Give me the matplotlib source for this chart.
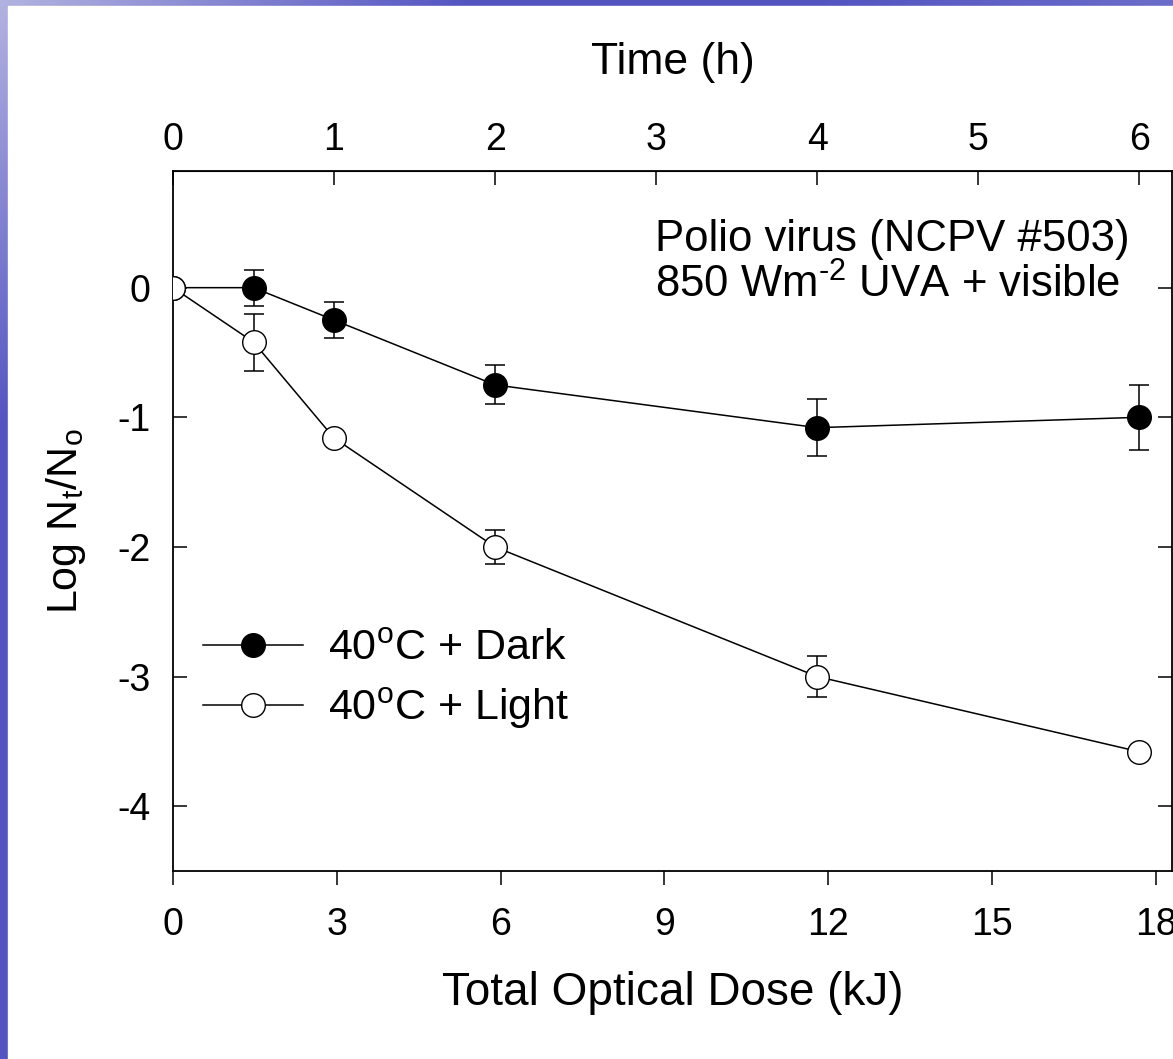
import numpy as np
import matplotlib
matplotlib.use("Agg")
import matplotlib.pyplot as plt
from matplotlib.patches import Rectangle

plt.rcParams['font.family'] = ['Liberation Sans', 'DejaVu Sans']
plt.rcParams['mathtext.fontset'] = 'custom'
plt.rcParams['mathtext.rm'] = 'Liberation Sans'
plt.rcParams['axes.unicode_minus'] = False

# Data
dose = [0, 1.475, 2.95, 5.9, 11.8, 17.7]          # kJ
dark = [0, 0, -0.25, -0.75, -1.08, -1.0]
dark_err = [0, 0.14, 0.14, 0.15, 0.22, 0.25]
light = [0, -0.42, -1.16, -2.0, -3.0, -3.58]
light_err = [0, 0.22, 0.0, 0.13, 0.16, 0.0]
kj_per_hour = 2.95

FS = 27      # tick labels
LFS = 31     # legend, y label
W, H = 1173, 1059
fig = plt.figure(figsize=(W / 100, H / 100), dpi=100)

# blue slide background strips
bg = fig.add_axes([0, 0, 1, 1], zorder=-10)
gx = np.linspace(0, 1, 300)
gy = np.linspace(0, 1, 300)
X, Y = np.meshgrid(gx, gy)
light_c = np.array([0.70, 0.70, 0.88])
dark_c = np.array([0.33, 0.33, 0.76])
t = np.clip(2.5 * (X + Y), 0, 1) - 0.25 * np.clip(X - 0.7, 0, 1) / 0.3 * (Y < 0.05)
t = np.clip(t, 0, 1)[..., None]
img = light_c * (1 - t) + dark_c * t
bg.imshow(img, extent=[0, 1, 0, 1], aspect='auto', origin='upper')
bg.add_patch(Rectangle((8 / W, 0), 1, 1 - 6 / H, color='white'))
bg.set_xlim(0, 1)
bg.set_ylim(0, 1)
bg.axis('off')

ax = fig.add_axes([173 / W, 1 - 871 / H, (1172 - 173) / W, (871 - 171) / H])

ax.errorbar(dose, dark, yerr=dark_err, fmt='none', ecolor='black',
            elinewidth=1.1, capsize=7, capthick=1.1, zorder=2)
ax.errorbar(dose, light, yerr=light_err, fmt='none', ecolor='black',
            elinewidth=1.1, capsize=7, capthick=1.1, zorder=2)
ax.plot(dose, dark, '-o', color='black', lw=1.1, ms=17, mfc='black',
        mec='black', mew=1.0, label='40$^\\mathregular{o}$C + Dark', zorder=3)
ax.plot(dose, light, '-o', color='black', lw=1.1, ms=17, mfc='white',
        mec='black', mew=1.0, label='40$^\\mathregular{o}$C + Light', zorder=4)

ax.set_xlim(0, 18.3)
ax.set_ylim(-4.5, 0.9)
ax.set_xticks([0, 3, 6, 9, 12, 15, 18])
ax.set_yticks([0, -1, -2, -3, -4])
ax.tick_params(axis='x', direction='out', length=10, width=1.1, labelsize=FS, pad=16)
ax.tick_params(axis='y', direction='in', length=10, width=1.1, labelsize=FS,
               right=True, pad=16)
for s in ax.spines.values():
    s.set_linewidth(1.3)

sec = ax.secondary_xaxis('top', functions=(lambda x: x / kj_per_hour,
                                            lambda h: h * kj_per_hour))
sec.set_xticks([0, 1, 2, 3, 4, 5, 6])
sec.tick_params(direction='in', length=10, width=1.1, labelsize=FS, pad=9)
sec.set_xlabel('Time (h)', fontsize=32, labelpad=35)

ax.set_xlabel('Total Optical Dose (kJ)', fontsize=33, labelpad=20)
ax.set_ylabel('Log N$_\\mathregular{t}$/N$_\\mathregular{o}$', fontsize=LFS, labelpad=21)

ax.text((1130 - 173) / 999, (871 - 251) / 700, 'Polio virus (NCPV #503)',
        transform=ax.transAxes, ha='right', va='baseline', fontsize=31.5)
ax.text((1120 - 173) / 999, (871 - 298) / 700, '850 Wm$^{\\text{-2}}$ UVA + visible',
        transform=ax.transAxes, ha='right', va='baseline', fontsize=31.5)

ax.legend(loc='upper left', bbox_to_anchor=(0.03, 0.346), frameon=False,
          fontsize=LFS, handlelength=2.33, handletextpad=0.58, labelspacing=0.4,
          borderaxespad=0, borderpad=0)

fig.savefig('out.png', dpi=100)
